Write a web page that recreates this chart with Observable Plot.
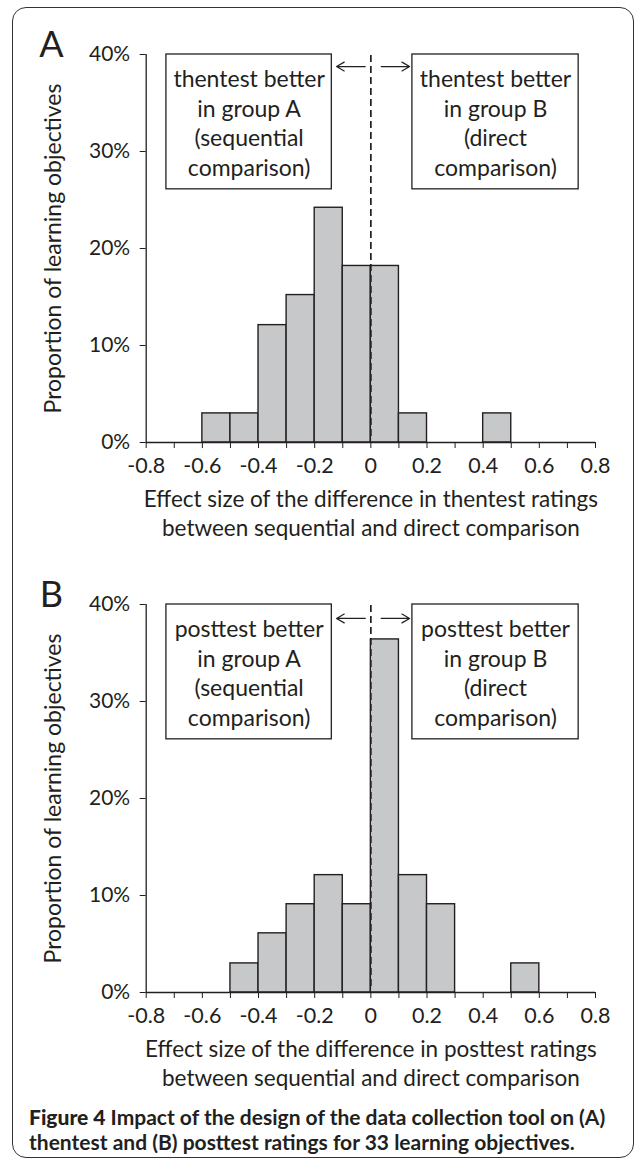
<!DOCTYPE html>
<html><head><meta charset="utf-8">
<script src="https://cdn.jsdelivr.net/npm/d3@7"></script>
<script src="https://cdn.jsdelivr.net/npm/@observablehq/plot@0.6"></script>
<style>
body{margin:0;background:#fff;width:634px;height:1159px;overflow:hidden;position:relative;font-family:Lato,sans-serif;color:#231f20}
#frame{position:absolute;left:12px;top:7px;width:622px;height:1151px;border:1.6px solid #333;border-radius:14px;box-sizing:border-box}
#a{position:absolute;left:0;top:0}
#b{position:absolute;left:0;top:550px}
#cap{position:absolute;left:29px;top:1104px;font-size:21px;line-height:25px;font-weight:700;white-space:nowrap}
#cap b{font-weight:900}
</style></head><body>
<div id="frame"></div><div id="a"></div><div id="b"></div>
<div id="cap"><b>Figure 4</b> Impact of the design of the data collection tool on (A)<br>thentest and (B) posttest ratings for 33 learning objectives.</div>
<script>
// Panel A: thentest effect sizes (bin edges and proportion of 33 objectives, %)
const binLoA = [-0.6, -0.5, -0.4, -0.3, -0.2, -0.1, 0.0, 0.1, 0.4];
const binHiA = [-0.5, -0.4, -0.3, -0.2, -0.1, 0.0, 0.1, 0.2, 0.5];
const pctA   = [3.0, 3.0, 12.1, 15.2, 24.2, 18.2, 18.2, 3.0, 3.0];
// Panel B: posttest effect sizes
const binLoB = [-0.5, -0.4, -0.3, -0.2, -0.1, 0.0, 0.1, 0.2, 0.5];
const binHiB = [-0.4, -0.3, -0.2, -0.1, 0.0, 0.1, 0.2, 0.3, 0.6];
const pctB   = [3.0, 6.1, 9.1, 12.1, 9.1, 36.4, 12.1, 9.1, 3.0];

const yTicks = [0, 0.1, 0.2, 0.3, 0.4];
const xMinorTicks = [-0.8,-0.7,-0.6,-0.5,-0.4,-0.3,-0.2,-0.1,0,0.1,0.2,0.3,0.4,0.5,0.6,0.7,0.8];
const xTicks = [-0.8, -0.6, -0.4, -0.2, 0, 0.2, 0.4, 0.6, 0.8];
const xTickLabels = ["-0.8", "-0.6", "-0.4", "-0.2", "0", "0.2", "0.4", "0.6", "0.8"];

const yLabel = "Proportion of learning objectives";
const xLabelA = "Effect size of the difference in thentest ratings\nbetween sequential and direct comparison";
const xLabelB = "Effect size of the difference in posttest ratings\nbetween sequential and direct comparison";
const boxTextA = ["thentest better\nin group A\n(sequential\ncomparison)", "thentest better\nin group B\n(direct\ncomparison)"];
const boxTextB = ["posttest better\nin group A\n(sequential\ncomparison)", "posttest better\nin group B\n(direct\ncomparison)"];

// annotation box extents (data units)
const boxX1 = [-0.728, 0.148];
const boxX2 = [-0.139, 0.740];
const boxY1 = 0.261, boxY2 = 0.4;
const arrowFrom = [-0.020, 0.037];
const arrowTo = [-0.122, 0.138];

const ink = "#231f20";

function panel(lo, hi, pct, boxText, letter, xLabel, arrowY) {
  const bars = lo.map((d, i) => ({x1: d, x2: hi[i], y: pct[i] / 100}));
  const boxes = boxText.map((t, i) => ({x1: boxX1[i], x2: boxX2[i], t}));
  const arrows = arrowFrom.map((d, i) => ({x1: d, x2: arrowTo[i]}));
  return Plot.plot({
    width: 634, height: 550,
    marginLeft: 145.7, marginRight: 39, marginTop: 54, marginBottom: 108,
    x: {domain: [-0.8, 0.8]},
    y: {domain: [0, 0.4]},
    style: {fontFamily: "Lato, sans-serif", fontSize: "21px", color: ink, background: "transparent", overflow: "visible"},
    marks: [
      Plot.rect(bars, {x1: "x1", x2: "x2", y1: 0, y2: "y", fill: "#c7c8ca", stroke: ink, strokeWidth: 1.4}),
      Plot.ruleX([0], {y1: 0, y2: 0.4, insetTop: -6, stroke: ink, strokeWidth: 1.7, strokeDasharray: "7,4"}),
      Plot.ruleX([-0.8], {y1: 0, y2: 0.4, stroke: ink, strokeWidth: 1.3}),
      Plot.ruleY([0], {x1: -0.8, x2: 0.8, stroke: ink, strokeWidth: 1.3}),
      Plot.axisY({ticks: yTicks, tickFormat: d3.format(".0%"), tickSize: 6, tickPadding: 10, fontSize: 21, label: null, stroke: ink, fill: ink}),
      Plot.axisX({ticks: xMinorTicks, tickFormat: () => "", tickSize: 6, label: null, stroke: ink}),
      Plot.axisX({ticks: xTicks, tickFormat: (d, i) => xTickLabels[i], tickSize: 0, tickPadding: 15, fontSize: 21.5, label: null, fill: ink}),
      Plot.rect(boxes, {x1: "x1", x2: "x2", y1: boxY1, y2: boxY2, fill: "white", stroke: ink, strokeWidth: 1.3}),
      Plot.text(boxes, {x: d => (d.x1 + d.x2) / 2, y: (boxY1 + boxY2) / 2, text: "t", lineHeight: 1.304, fontSize: 23, fill: ink}),
      Plot.arrow(arrows, {x1: "x1", x2: "x2", y1: arrowY, y2: arrowY, stroke: ink, strokeWidth: 1.2, headLength: 11}),
      Plot.text([letter], {frameAnchor: "top-left", textAnchor: "middle", lineAnchor: "middle", dx: -94.7, dy: -9.5, fontSize: 36, fill: ink}),
      Plot.text([yLabel], {frameAnchor: "left", textAnchor: "middle", lineAnchor: "middle", rotate: -90, dx: -93, fontSize: 23, fill: ink}),
      Plot.text([xLabel], {frameAnchor: "bottom", lineAnchor: "middle", dy: 69.5, lineHeight: 1.29, fontSize: 22.5, fill: ink})
    ]
  });
}

document.getElementById("a").append(panel(binLoA, binHiA, pctA, boxTextA, "A", xLabelA, 0.3876));
document.getElementById("b").append(panel(binLoB, binHiB, pctB, boxTextB, "B", xLabelB, 0.3856));
</script>
</body></html>
